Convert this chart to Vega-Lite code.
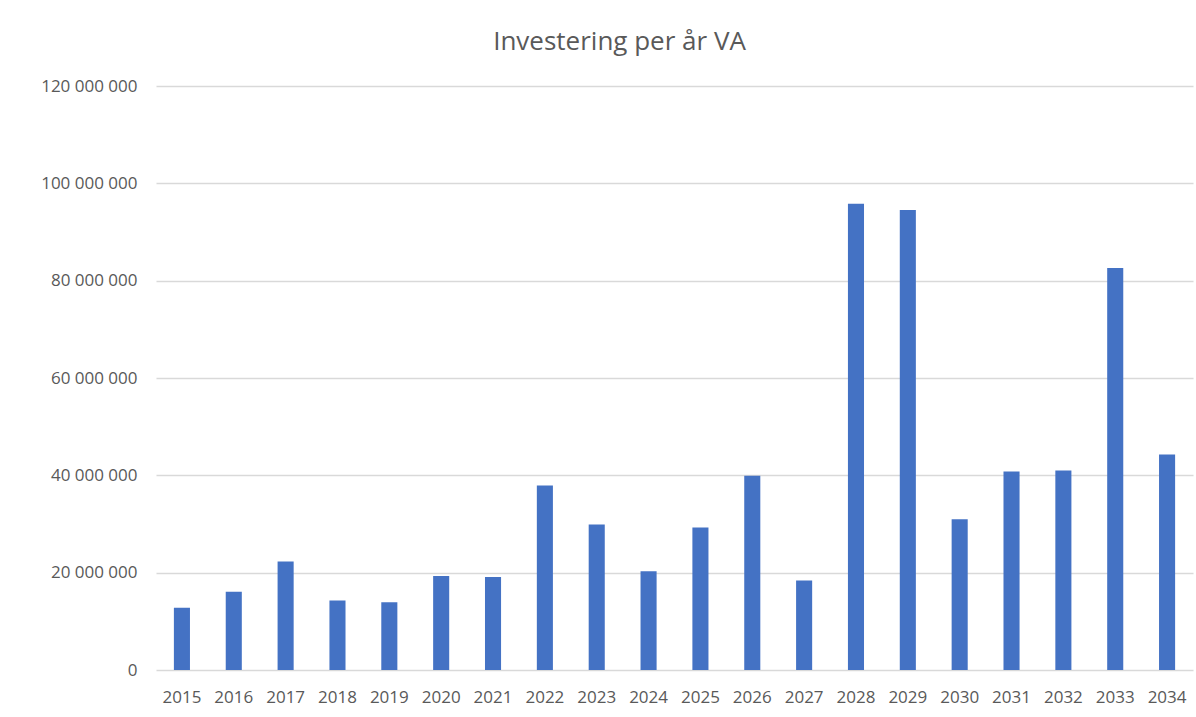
{
  "$schema": "https://vega.github.io/schema/vega-lite/v6.json",
  "width": 1037,
  "height": 584,
  "autosize": {"type": "none"},
  "padding": {"left": 156, "top": 86, "right": 3, "bottom": 47},
  "background": "white",
  "title": {
    "text": "Investering per år VA",
    "font": "Open Sans",
    "fontSize": 26,
    "fontWeight": "normal",
    "color": "#595959",
    "anchor": "middle",
    "dx": -55,
    "dy": 33,
    "offset": 34,
    "baseline": "alphabetic"
  },
  "data": {
    "values": [
      {"year": "2015", "value": 12800000},
      {"year": "2016", "value": 16100000},
      {"year": "2017", "value": 22300000},
      {"year": "2018", "value": 14300000},
      {"year": "2019", "value": 13900000},
      {"year": "2020", "value": 19300000},
      {"year": "2021", "value": 19100000},
      {"year": "2022", "value": 37900000},
      {"year": "2023", "value": 29900000},
      {"year": "2024", "value": 20300000},
      {"year": "2025", "value": 29300000},
      {"year": "2026", "value": 39900000},
      {"year": "2027", "value": 18400000},
      {"year": "2028", "value": 95800000},
      {"year": "2029", "value": 94500000},
      {"year": "2030", "value": 31000000},
      {"year": "2031", "value": 40800000},
      {"year": "2032", "value": 41000000},
      {"year": "2033", "value": 82600000},
      {"year": "2034", "value": 44300000}
    ]
  },
  "mark": {"type": "bar", "color": "#4472C4"},
  "encoding": {
    "x": {
      "field": "year",
      "type": "ordinal",
      "title": null,
      "scale": {"paddingInner": 0.69, "paddingOuter": 0.345},
      "axis": {
        "labelAngle": 0,
        "labelFont": "Open Sans",
        "labelFontSize": 17,
        "labelColor": "#595959",
        "labelPadding": 19,
        "ticks": false,
        "domain": false,
        "grid": false
      }
    },
    "y": {
      "field": "value",
      "type": "quantitative",
      "title": null,
      "scale": {"domain": [0, 120000000], "nice": false},
      "axis": {
        "values": [0, 20000000, 40000000, 60000000, 80000000, 100000000, 120000000],
        "labelExpr": "replace(format(datum.value, ','), regexp(',', 'g'), ' ')",
        "labelFont": "Open Sans",
        "labelFontSize": 17,
        "labelColor": "#595959",
        "labelPadding": 19,
        "ticks": false,
        "domain": false,
        "grid": true,
        "gridColor": "#d9d9d9",
        "gridWidth": 1.5
      }
    }
  },
  "config": {
    "view": {"stroke": null}
  }
}
